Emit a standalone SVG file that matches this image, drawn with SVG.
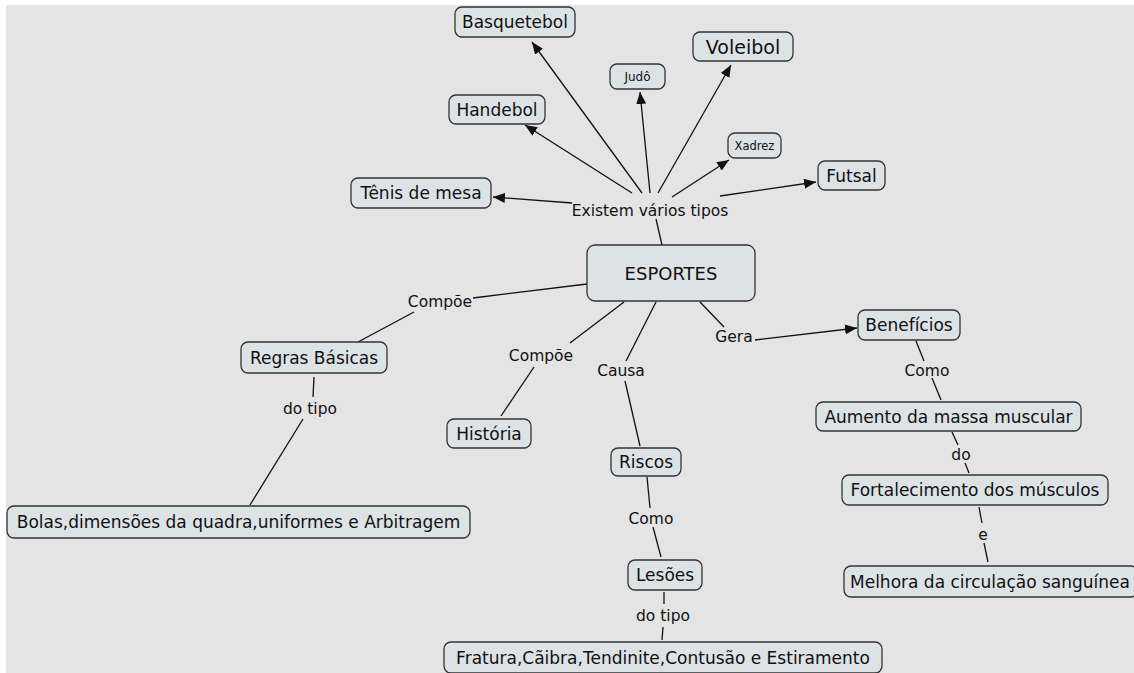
<svg xmlns="http://www.w3.org/2000/svg" width="1134" height="673" viewBox="0 0 1134 673">
<defs>
<style>
.n rect{fill:#dde2e5;stroke:#333;stroke-width:1.3}
.n text,.l{font-family:"DejaVu Sans",Verdana,sans-serif;fill:#111;text-anchor:middle}
.n text{font-size:17px}
.l{font-size:15.5px}
#links line{stroke:#111;stroke-width:1.3;fill:none}
.a{marker-end:url(#arr)}
</style>
<marker id="arr" viewBox="0 0 12 10" refX="12" refY="5" markerWidth="12" markerHeight="10" orient="auto" markerUnits="userSpaceOnUse"><path d="M0,0 L12,5 L0,10 z" fill="#111"/></marker>
</defs>
<rect x="0" y="0" width="1134" height="673" fill="#ffffff"/>
<rect x="6" y="5" width="1128" height="668" fill="#e4e4e4"/>
<g id="links">
<line class="a" x1="572" y1="203" x2="493" y2="197"/>
<line class="a" x1="632" y1="193" x2="525" y2="125"/>
<line class="a" x1="642" y1="193" x2="532" y2="42"/>
<line class="a" x1="650" y1="193" x2="640" y2="92"/>
<line class="a" x1="658" y1="193" x2="731" y2="65"/>
<line class="a" x1="672" y1="197" x2="729" y2="160"/>
<line class="a" x1="720" y1="196" x2="816" y2="182"/>
<line x1="656" y1="219" x2="662" y2="245"/>
<line x1="587" y1="284" x2="473" y2="298"/>
<line x1="414" y1="312" x2="358" y2="342"/>
<line x1="314" y1="377" x2="313" y2="397"/>
<line x1="303" y1="419" x2="250" y2="505"/>
<line x1="624" y1="302" x2="570" y2="343"/>
<line x1="534" y1="367" x2="501" y2="416"/>
<line x1="656" y1="302" x2="626" y2="361"/>
<line x1="625" y1="381" x2="640" y2="446"/>
<line x1="647" y1="477" x2="650" y2="508"/>
<line x1="653" y1="527" x2="661" y2="557"/>
<line x1="664" y1="592" x2="664" y2="604"/>
<line x1="663" y1="627" x2="662" y2="640"/>
<line x1="700" y1="302" x2="724" y2="327"/>
<line class="a" x1="755" y1="340" x2="857" y2="328"/>
<line x1="916" y1="341" x2="924" y2="361"/>
<line x1="932" y1="378" x2="941" y2="400"/>
<line x1="952" y1="432" x2="958" y2="445"/>
<line x1="965" y1="463" x2="969" y2="473"/>
<line x1="979" y1="507" x2="982" y2="523"/>
<line x1="984" y1="543" x2="988" y2="562"/>
<text class="l" x="650" y="215.5">Existem vários tipos</text>
<text class="l" x="440" y="306.5">Compõe</text>
<text class="l" x="541" y="360.5">Compõe</text>
<text class="l" x="310" y="413.5">do tipo</text>
<text class="l" x="621" y="375.5">Causa</text>
<text class="l" x="734" y="341.5">Gera</text>
<text class="l" x="927" y="375.5">Como</text>
<text class="l" x="961" y="459.5">do</text>
<text class="l" x="983" y="539.5">e</text>
<text class="l" x="651" y="523.5">Como</text>
<text class="l" x="663" y="620.5">do tipo</text>
</g>
<g id="basquetebol" class="n"><rect x="455" y="7" width="120" height="30" rx="7"/><text x="515" y="28">Basquetebol</text></g>
<g id="voleibol" class="n"><rect x="693" y="32" width="100" height="29" rx="7"/><text x="743" y="53.5" style="font-size:19px">Voleibol</text></g>
<g id="judo" class="n"><rect x="610" y="64" width="55" height="25" rx="7"/><text x="637.5" y="81" style="font-size:12px">Judô</text></g>
<g id="handebol" class="n"><rect x="449" y="95" width="96" height="29" rx="7"/><text x="497" y="115.5">Handebol</text></g>
<g id="xadrez" class="n"><rect x="728" y="133" width="53" height="25" rx="7"/><text x="754.5" y="149.5" style="font-size:11.5px">Xadrez</text></g>
<g id="futsal" class="n"><rect x="818" y="161" width="67" height="29" rx="7"/><text x="851.5" y="181.5">Futsal</text></g>
<g id="tenis" class="n"><rect x="351" y="178" width="140" height="30" rx="7"/><text x="421" y="199">Tênis de mesa</text></g>
<g id="esportes" class="n"><rect x="587" y="245" width="168" height="56" rx="8"/><text x="671" y="279.5" style="font-size:18px">ESPORTES</text></g>
<g id="regras" class="n"><rect x="241" y="342" width="146" height="31" rx="7"/><text x="314" y="363.5">Regras Básicas</text></g>
<g id="historia" class="n"><rect x="447" y="419" width="84" height="29" rx="7"/><text x="489" y="439.5">História</text></g>
<g id="bolas" class="n"><rect x="7" y="506" width="463" height="32" rx="7"/><text x="238.5" y="528">Bolas,dimensões da quadra,uniformes e Arbitragem</text></g>
<g id="riscos" class="n"><rect x="611" y="448" width="70" height="28" rx="7"/><text x="646" y="468">Riscos</text></g>
<g id="lesoes" class="n"><rect x="628" y="560" width="74" height="30" rx="7"/><text x="665" y="581">Lesões</text></g>
<g id="fratura" class="n"><rect x="444" y="642" width="438" height="31" rx="7"/><text x="663" y="663.5">Fratura,Cãibra,Tendinite,Contusão e Estiramento</text></g>
<g id="beneficios" class="n"><rect x="858" y="310" width="102" height="30" rx="7"/><text x="909" y="331">Benefícios</text></g>
<g id="aumento" class="n"><rect x="816" y="402" width="265" height="29" rx="7"/><text x="948.5" y="422.5">Aumento da massa muscular</text></g>
<g id="fortalecimento" class="n"><rect x="842" y="475" width="266" height="30" rx="7"/><text x="975" y="496">Fortalecimento dos músculos</text></g>
<g id="melhora" class="n"><rect x="844" y="566" width="294" height="31" rx="7"/><text x="990" y="587.5">Melhora da circulação sanguínea</text></g>
</svg>
